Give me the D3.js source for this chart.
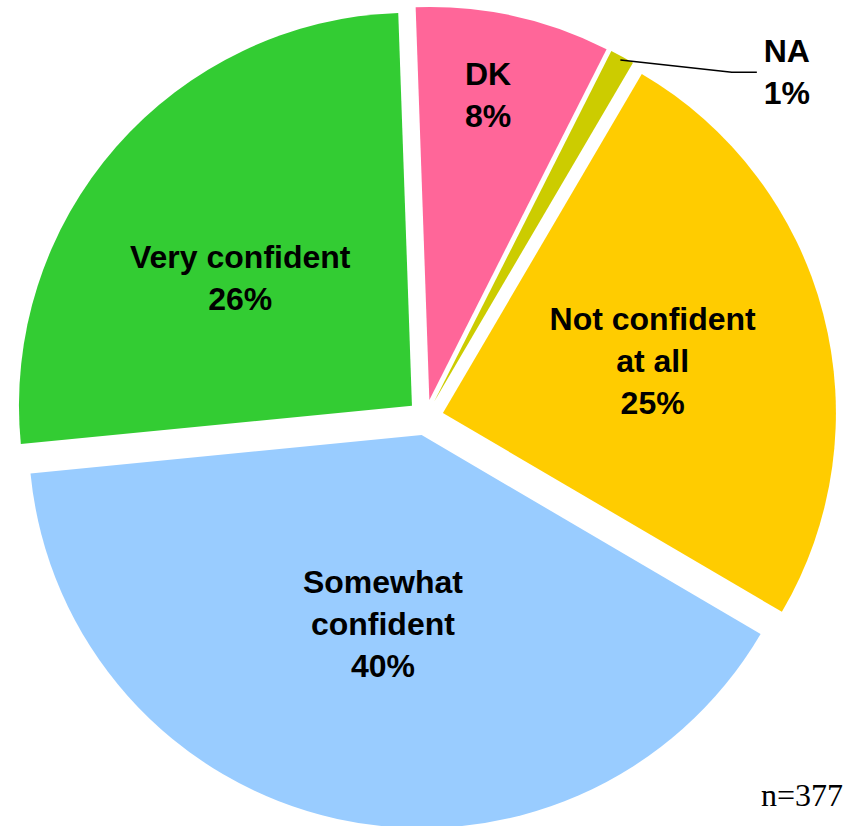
<!DOCTYPE html>
<html>
<head>
<meta charset="utf-8">
<script src="https://cdn.jsdelivr.net/npm/d3@7"></script>
<style>
  html, body { margin: 0; padding: 0; background: #fff; }
  svg { display: block; }
</style>
</head>
<body>
<svg id="chart"></svg>
<script>
// data, clockwise from 12 o'clock
const categories = ["DK", "NA", "Not confident\nat all", "Somewhat\nconfident", "Very confident"];
const values = [8, 1, 25, 40, 26];
const colors = ["#FF6699", "#CCCC00", "#FFCC00", "#99CCFF", "#33CC33"];
const sampleNote = "n=377";

const W = 846, H = 826;
const cx = 425.5, cy = 417.5, R = 393;
const explode = 18;
// where each label sits: fraction of R and angle nudge in degrees (excel best fit)
const labelRadius = [0.79, null, 0.55, 0.49, 0.545];
const labelTurn = [-1.5, 0, 0.6, -0.8, -4.5];

const svg = d3.select("#chart").attr("width", W).attr("height", H);

const deg = Math.PI / 180;
const pie = d3.pie()
  .sort(null)
  .startAngle(-2 * deg)
  .endAngle(2 * Math.PI - 2 * deg)
  .value(d => d.value);

const data = categories.map((c, i) => ({
  cat: c, value: values[i], color: colors[i], lr: labelRadius[i], lt: labelTurn[i]
}));
const arcs = pie(data);

const arc = d3.arc().innerRadius(0).outerRadius(R);
const mid = d => (d.startAngle + d.endAngle) / 2;
const polar = (a, r) => [Math.sin(a) * r, -Math.cos(a) * r];

const root = svg.append("g").attr("transform", `translate(${cx},${cy})`);

const slices = root.selectAll("g.slice")
  .data(arcs)
  .join("g")
  .attr("class", "slice")
  .attr("transform", d => {
    const [dx, dy] = polar(mid(d), explode);
    return `translate(${dx},${dy})`;
  });

slices.append("path")
  .attr("d", arc)
  .attr("fill", d => d.data.color);

const font = "'Liberation Sans', Arial, sans-serif";
const fs = 32, lh = 42, cap = 22;

function addLabel(g, lines, x, y) {
  // y is the vertical middle of the text block
  const first = y + cap / 2 - (lines.length - 1) * lh / 2;
  const t = g.append("text")
    .attr("text-anchor", "middle")
    .attr("font-family", font)
    .attr("font-weight", "bold")
    .attr("font-size", fs)
    .attr("fill", "#000");
  lines.forEach((s, i) => {
    t.append("tspan").attr("x", x).attr("y", first + i * lh).text(s);
  });
}

slices.each(function(d) {
  const g = d3.select(this);
  const lines = d.data.cat.split("\n").concat([d.data.value + "%"]);
  if (d.data.lr != null) {
    const [x, y] = polar(mid(d) + d.data.lt * deg, R * d.data.lr);
    addLabel(g, lines, x, y);
  } else {
    // small slice: leader line out to the right
    const [x0, y0] = polar(mid(d), R * 0.99);
    const [x1, y1] = polar(mid(d) + 13.5 * deg, R * 1.13);
    const x2 = x1 + 25;
    g.append("polyline")
      .attr("points", [[x0, y0], [x1, y1], [x2, y1]].map(p => p.join(",")).join(" "))
      .attr("fill", "none")
      .attr("stroke", "#000")
      .attr("stroke-width", 1.5);
    addLabel(g, lines, x2 + 30, y1);
  }
});

svg.append("text")
  .attr("x", 843)
  .attr("y", 806)
  .attr("text-anchor", "end")
  .attr("font-family", "'Liberation Serif', 'Times New Roman', serif")
  .attr("font-size", 32)
  .attr("fill", "#000")
  .text(sampleNote);
</script>
</body>
</html>
